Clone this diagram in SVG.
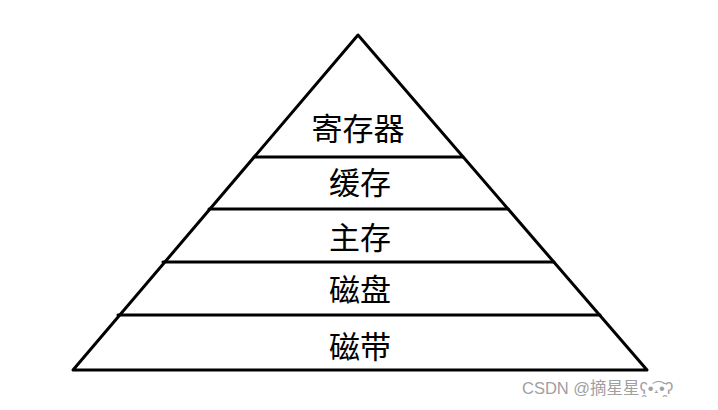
<svg xmlns="http://www.w3.org/2000/svg" width="718" height="410" viewBox="0 0 718 410">
<style>
.l{stroke:#000;stroke-width:3;fill:none;stroke-linecap:round;stroke-linejoin:round}
.t{font-family:"Noto Sans CJK SC","Noto Sans",sans-serif;font-size:31px;fill:#000;text-anchor:middle;dominant-baseline:central}
.w{font-family:"Liberation Sans","Noto Sans CJK SC",sans-serif;font-size:16.5px;fill:#a0a0a0}
</style>
<rect width="718" height="410" fill="#fff"/>
<g id="pyramid">
<polygon class="l" points="358,35 647,370 73,370"/>
</g>
<g id="connectors">
<line class="l" x1="254" y1="157" x2="463" y2="157"/>
<line class="l" x1="209" y1="209" x2="508" y2="209"/>
<line class="l" x1="163" y1="262" x2="554" y2="262"/>
<line class="l" x1="118" y1="315" x2="600" y2="315"/>
</g>
<g id="n1"><text class="t" x="358" y="126">寄存器</text></g>
<g id="n2"><text class="t" x="360" y="180">缓存</text></g>
<g id="n3"><text class="t" x="360" y="235">主存</text></g>
<g id="n4"><text class="t" x="360" y="287">磁盘</text></g>
<g id="n5"><text class="t" x="360" y="344">磁带</text></g>
<text class="w" x="522" y="394">CSDN @摘星星ʕ̯•͡˔•̯᷅ʔ</text>
</svg>
